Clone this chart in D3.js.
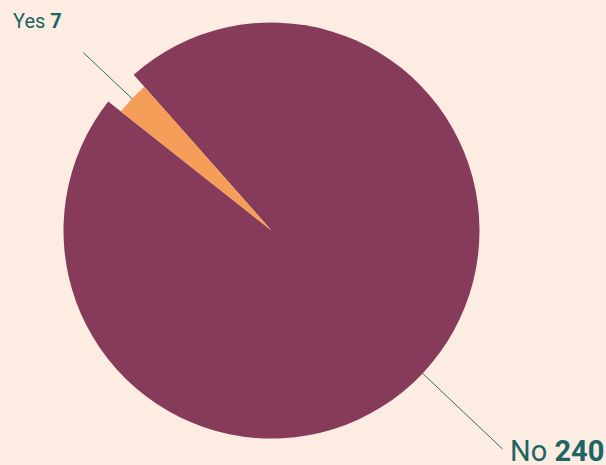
<!DOCTYPE html>
<html><head><meta charset="utf-8">
<script src="https://cdn.jsdelivr.net/npm/d3@7"></script>
<style>html,body{margin:0;padding:0;background:#fdece1;overflow:hidden}</style>
</head><body>
<svg id="c" width="606" height="465"></svg>
<script>
const categories = ["No", "Yes"];
const values = [240, 7];
const colors = ["#873b5a", "#f49e5a"];
const fontSizes = [29, 20];
const labelPos = [[510, 461], [13, 28]];
const leaderEnd = [318, 259];

const W = 606, H = 465;
const cx = 271.5, cy = 230.5;
const svg = d3.select("#c");
svg.append("rect").attr("width", W).attr("height", H).attr("fill", "#fdece1");
const g = svg.append("g").attr("transform", `translate(${cx},${cy})`);

const radii = [208, 192];
const pie = d3.pie().sort(null).startAngle(-41.5 * Math.PI / 180).endAngle((360 - 41.5) * Math.PI / 180);
const arcs = pie(values);
arcs.forEach((a, i) => {
  g.append("path")
    .attr("d", d3.arc().innerRadius(0).outerRadius(radii[i])(a))
    .attr("fill", colors[i]);
});
arcs.forEach((a, i) => {
  const mid = (a.startAngle + a.endAngle) / 2;
  const sx = Math.sin(mid), sy = -Math.cos(mid);
  g.append("line")
    .attr("x1", sx * radii[i]).attr("y1", sy * radii[i])
    .attr("x2", sx * leaderEnd[i]).attr("y2", sy * leaderEnd[i])
    .attr("stroke", "#2a7070").attr("stroke-width", 1);
  const t = svg.append("text")
    .attr("x", labelPos[i][0]).attr("y", labelPos[i][1])
    .attr("font-family", "Roboto, sans-serif")
    .attr("font-size", fontSizes[i])
    .attr("fill", "#1b6563");
  t.append("tspan").text(categories[i] + " ");
  t.append("tspan").attr("font-weight", "bold").text(values[i]);
});
</script>
</body></html>
